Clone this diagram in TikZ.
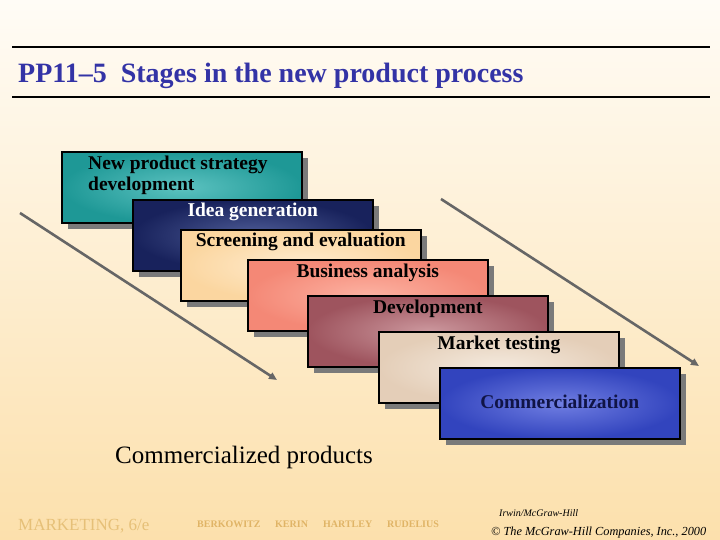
\documentclass[tikz,border=0pt]{standalone}
\usepackage{fontspec}
\setmainfont{Liberation Serif}
\usetikzlibrary{arrows.meta,shadows}

\definecolor{bgtop}{HTML}{FFFCF6}
\definecolor{bgbottom}{HTML}{FCE0AC}
\definecolor{titleblue}{HTML}{3333A6}
\definecolor{shadowgray}{HTML}{7A7A7A}
\definecolor{arrowgray}{HTML}{666666}
\definecolor{foottan}{HTML}{E6C078}
\definecolor{authortan}{HTML}{E0B466}
% stage colours (inner / outer)
\definecolor{tealin}{HTML}{5CC2C0}
\definecolor{tealout}{HTML}{1E9896}
\definecolor{navyin}{HTML}{4E5C96}
\definecolor{navyout}{HTML}{18225C}
\definecolor{peachin}{HTML}{FFECD0}
\definecolor{peachout}{HTML}{FBD6A0}
\definecolor{salmonin}{HTML}{FCB2A2}
\definecolor{salmonout}{HTML}{F48876}
\definecolor{rosein}{HTML}{CC989E}
\definecolor{roseout}{HTML}{9E545E}
\definecolor{beigein}{HTML}{F4EADE}
\definecolor{beigeout}{HTML}{E4CEB8}
\definecolor{bluein}{HTML}{707EE2}
\definecolor{blueout}{HTML}{3244BE}
\definecolor{darknavy}{HTML}{101446}

\begin{document}
\begin{tikzpicture}[x=1pt, y=-1pt,
  stagebox/.style={draw=black, line width=1.6pt, minimum width=240pt, minimum height=71pt,
    anchor=north west, inner sep=0pt,
    general shadow={fill=shadowgray, shadow xshift=6pt, shadow yshift=-6pt}},
  stagetext/.style={font=\bfseries\fontsize{19.5}{21}\selectfont, anchor=base, inner sep=0pt},
  authorname/.style={authortan, font=\bfseries\fontsize{10}{12}\selectfont, anchor=base west, inner sep=0pt},
  flowarrow/.style={draw=arrowgray, line width=2.6pt, -{Triangle[length=8pt, width=7pt]}}]

  %% Background and title
  \useasboundingbox (0,0) rectangle (720,540);
  \fill[top color=bgtop, bottom color=bgbottom] (0,0) rectangle (720,540);
  \draw[line width=1.8pt] (12,47) -- (710,47);
  \draw[line width=1.8pt] (12,97) -- (710,97);
  \node[titleblue, font=\bfseries\fontsize{28}{32}\selectfont, anchor=base west, inner sep=0pt]
    (title) at (18,83) {PP11--5\ \ Stages in the new product process};

  %% Flow arrows
  \coordinate (lstart) at (20,213);
  \coordinate (lend) at (277,380);
  \coordinate (rstart) at (441,199);
  \coordinate (rend) at (699,366);
  \draw[flowarrow] (lstart) -- (lend);
  \draw[flowarrow] (rstart) -- (rend);

  %% Stage boxes
  \node[stagebox, inner color=tealin, outer color=tealout] (strategy) at (61,151) {};
  \node[stagetext, anchor=base west, align=left] (strategytext) at (88,191)
    {New product strategy\\development};

  \node[stagebox, inner color=navyin, outer color=navyout] (idea) at (132,199) {};
  \node[stagetext, white] (ideatext) at ([yshift=-18pt]idea.north) {Idea generation};

  \node[stagebox, inner color=peachin, outer color=peachout] (screening) at (180,229) {};
  \node[stagetext] (screeningtext) at ([yshift=-18pt]screening.north) {Screening and evaluation};

  \node[stagebox, inner color=salmonin, outer color=salmonout] (business) at (247,259) {};
  \node[stagetext] (businesstext) at ([yshift=-18pt]business.north) {Business analysis};

  \node[stagebox, inner color=rosein, outer color=roseout] (development) at (307,295) {};
  \node[stagetext] (developmenttext) at ([yshift=-18pt]development.north) {Development};

  \node[stagebox, inner color=beigein, outer color=beigeout] (market) at (378,331) {};
  \node[stagetext] (markettext) at ([yshift=-18pt]market.north) {Market testing};

  \node[stagebox, inner color=bluein, outer color=blueout] (commercial) at (439,367) {};
  \node[stagetext, darknavy] (commercialtext) at ([yshift=-41pt]commercial.north) {Commercialization};

  %% Result
  \node[font=\fontsize{25}{28}\selectfont, anchor=base west, inner sep=0pt] (result) at (115,463) {Commercialized products};

  %% Footer
  \node[foottan, font=\fontsize{17}{20}\selectfont, anchor=base west, inner sep=0pt] (book) at (18,530) {MARKETING, 6/e};
  \node[authorname] (a1) at (197,527) {BERKOWITZ};
  \node[authorname] (a2) at (275,527) {KERIN};
  \node[authorname] (a3) at (323,527) {HARTLEY};
  \node[authorname] (a4) at (387,527) {RUDELIUS};
  \node[font=\itshape\fontsize{10}{12}\selectfont, anchor=base west, inner sep=0pt] (publisher) at (499,516) {Irwin/McGraw-Hill};
  \node[font=\itshape\fontsize{12.3}{14}\selectfont, anchor=base west, inner sep=0pt] (copyright) at (491,535) {\textcopyright\ The McGraw-Hill Companies, Inc., 2000};

\end{tikzpicture}
\end{document}
